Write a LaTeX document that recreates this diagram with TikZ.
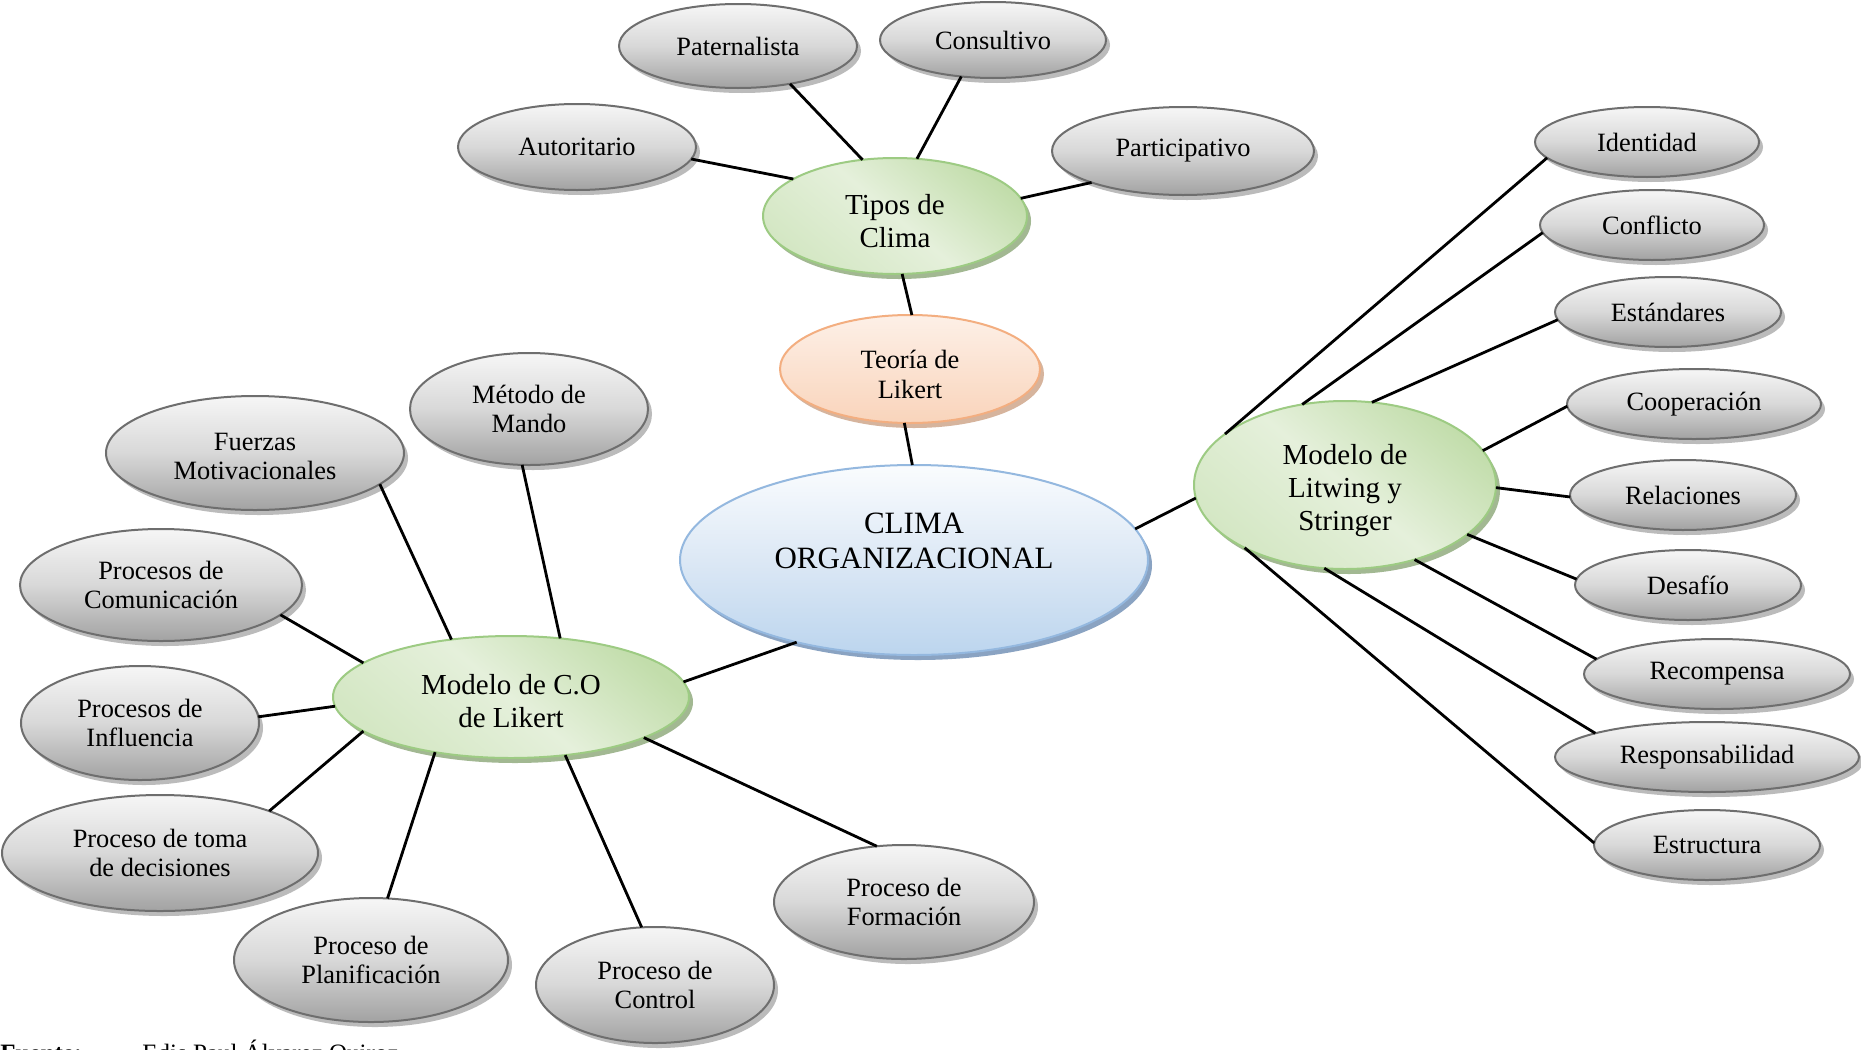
\documentclass[tikz,border=0pt]{standalone}
\usepackage{fontspec}
\setmainfont{Liberation Serif}
\usetikzlibrary{shapes.geometric,shadows}
\newcommand\pushdown[1]{\rule{0pt}{#1}}
\definecolor{gborder}{HTML}{6E6E6E}
\definecolor{gtop}{HTML}{F6F6F6}
\definecolor{gmid}{HTML}{D8D8D8}
\definecolor{gbot}{HTML}{A2A2A2}
\definecolor{gshadow}{HTML}{BBBBBB}
\definecolor{vborder}{HTML}{9DCB83}
\definecolor{vtop}{HTML}{C2DDAB}
\definecolor{vmid}{HTML}{E5F0DB}
\definecolor{vbot}{HTML}{D4E7C4}
\definecolor{vshadow}{HTML}{A2B892}
\definecolor{bborder}{HTML}{94B8DF}
\definecolor{btop}{HTML}{FAFCFE}
\definecolor{bmid}{HTML}{DCE8F5}
\definecolor{bbot}{HTML}{BCD5EE}
\definecolor{bshadow}{HTML}{8AA3C2}
\definecolor{oborder}{HTML}{F3AE80}
\definecolor{otop}{HTML}{FDF0E7}
\definecolor{obot}{HTML}{F9D4BB}
\definecolor{oshadow}{HTML}{D6B49D}
\begin{document}
\begin{tikzpicture}[x=0.5pt,y=-0.5pt,
  sz/.style 2 args={minimum width=#1pt, minimum height=#2pt},
  oval/.style={ellipse, inner sep=0pt, outer sep=0pt, align=center, line width=1pt},
  grayoval/.style={oval, draw=gborder, top color=gtop, bottom color=gbot, middle color=gmid,
    general shadow={fill=gshadow, shadow xshift=2pt, shadow yshift=-2.5pt},
    font=\fontsize{13.2}{14.5}\selectfont},
  greenoval/.style={oval, draw=vborder, top color=vtop, bottom color=vbot, middle color=vmid,
    shading angle=-40,
    general shadow={fill=vshadow, shadow xshift=2pt, shadow yshift=-2.5pt},
    font=\fontsize{14.5}{16.5}\selectfont},
  orangeoval/.style={oval, draw=oborder, top color=otop, bottom color=obot,
    general shadow={fill=oshadow, shadow xshift=2pt, shadow yshift=-2.5pt},
    font=\fontsize{13.2}{15}\selectfont},
  blueoval/.style={oval, draw=bborder, top color=btop, bottom color=bbot, middle color=bmid,
    general shadow={fill=bshadow, shadow xshift=2pt, shadow yshift=-2.5pt}},
  link/.style={line width=1.4pt, draw=black},
  captext/.style={anchor=base west, inner sep=0pt, font=\fontsize{12.5}{14}\selectfont}
]
\useasboundingbox (0,0) rectangle (1861,1049);
\fill[white] (0,0) rectangle (1861,1049);

% top cluster
\node[grayoval, sz={119}{42}] (pat) at (738,46) {Paternalista};
\node[grayoval, sz={113}{38}] (con) at (993,40) {Consultivo};
\node[grayoval, sz={119}{43}] (aut) at (577,147) {Autoritario};
\node[grayoval, sz={131}{44}] (par) at (1183,151) {Participativo};
\node[greenoval, sz={132}{58}] (tip) at (895,216) {\pushdown{15pt}Tipos de\\Clima};
\node[orangeoval, sz={130}{54}] (teo) at (910,369) {\pushdown{14.5pt}Teoría de\\Likert};
\node[blueoval, sz={234}{95},
  label={[font=\fontsize{15.5}{17.5}\selectfont, align=center, inner sep=0pt, yshift=9.5pt]center:CLIMA\\ORGANIZACIONAL}]
  (cli) at (914,560) {};
\node[greenoval, sz={151}{84}] (lit) at (1345,485) {\pushdown{16pt}Modelo de\\Litwing y\\Stringer};
\node[greenoval, sz={178}{61}] (mco) at (511,697) {\pushdown{14pt}Modelo de C.O\\de Likert};

% left cluster
\node[grayoval, sz={119}{56}] (met) at (529,409) {Método de\\Mando};
\node[grayoval, sz={149}{57}] (fue) at (255,453) {\pushdown{12pt}Fuerzas\\Motivacionales};
\node[grayoval, sz={141}{56}] (com) at (161,585) {Procesos de\\Comunicación};
\node[grayoval, sz={119}{57}] (inf) at (140,723) {Procesos de\\Influencia};
\node[grayoval, sz={158}{58}] (tom) at (160,853) {Proceso de toma\\de decisiones};
\node[grayoval, sz={137}{62}] (pla) at (371,960) {Proceso de\\Planificación};
\node[grayoval, sz={119}{58}] (ctl) at (655,985) {Proceso de\\Control};
\node[grayoval, sz={130}{57}] (frm) at (904,902) {Proceso de\\Formación};

% right column
\node[grayoval, sz={112}{35}] (ide) at (1647,142) {Identidad};
\node[grayoval, sz={112}{35}] (cnf) at (1652,225) {Conflicto};
\node[grayoval, sz={113}{35}] (etd) at (1668,312) {Estándares};
\node[grayoval, sz={127}{35}] (coo) at (1694,404) {Cooperación};
\node[grayoval, sz={113}{35}] (rel) at (1683,495) {Relaciones};
\node[grayoval, sz={113}{35}] (des) at (1688,585) {Desafío};
\node[grayoval, sz={133}{35}] (rec) at (1717,674) {Recompensa};
\node[grayoval, sz={152}{35}] (res) at (1707,757) {Responsabilidad};
\node[grayoval, sz={113}{35}] (etr) at (1707,845) {Estructura};

% connectors
\draw[link] (pat.-36) -- (tip.120);
\draw[link] (con.-131) -- (tip.69);
\draw[link] (aut.-6) -- (tip.160);
\draw[link] (par.199) -- (tip.8);
\draw[link] (tip.-83) -- (teo.88);
\draw[link] (teo.-96) -- (cli.91);
\draw[link] (cli.8) -- (lit.185);
\draw[link] (cli.215) -- (mco.5);

\draw[link] (met.-97) -- (mco.50);
\draw[link] (fue.-14) -- (mco.136);
\draw[link] (com.-14) -- (mco.167);
\draw[link] (inf.3) -- (mco.183);
\draw[link] (tom.21) -- (mco.193);
\draw[link] (pla.75) -- (mco.216);
\draw[link] (ctl.103) -- (mco.-47);
\draw[link] (frm.116) -- (mco.-17);

\draw[link] (ide.189) -- (lit.157);
\draw[link] (cnf.184) -- (lit.118);
\draw[link] (etd.184) -- (lit.72);
\draw[link] (coo.181) -- (lit.14);
\draw[link] (rel.181) -- (lit.-1);
\draw[link] (des.177) -- (lit.-22);
\draw[link] (rec.173) -- (lit.-47);
\draw[link] (res.168) -- (lit.-104);
\draw[link] (etr.179) -- (lit.-148);

% caption, cut off at the lower edge as in the reference
\begin{scope}
\clip (0,0) rectangle (1861,1049);
\node[captext] (caplbl) at (0,1061) {\textbf{Fuente:}};
\node[captext] (capname) at (142,1061) {Edis Paul Álvarez Quiroz};
\end{scope}
\end{tikzpicture}
\end{document}
